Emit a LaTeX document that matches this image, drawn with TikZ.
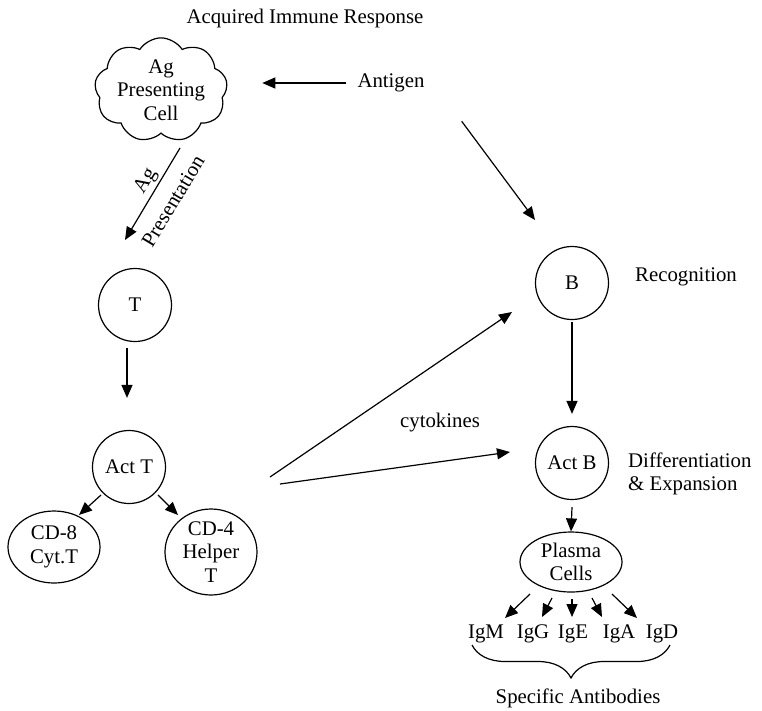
\documentclass[tikz,border=0pt]{standalone}
\usepackage{fontspec}
\setmainfont{Liberation Serif}
\usetikzlibrary{shapes.symbols,shapes.geometric,arrows.meta,decorations.pathreplacing,calc}

\begin{document}
\begin{tikzpicture}[x=1pt,y=-1pt,
  every node/.style={font=\fontsize{20.8}{23.5}\selectfont, inner sep=0pt},
  cell/.style={draw, circle, minimum size=73pt, line width=1.2pt},
  oval/.style={draw, ellipse, line width=1.2pt, align=center},
  arr/.style={-{Triangle[length=13pt,width=11pt]}, line width=1.2pt},
  lbl/.style={align=center}]
\useasboundingbox (0,0) rectangle (762,710);

% heading
\node (title) at (305,18) {Acquired Immune Response};

% antigen uptake
\node[draw, cloud, cloud puffs=9, cloud puff arc=115, cloud ignores aspect,
      minimum width=123pt, minimum height=83pt, align=center, line width=1.2pt]
      (apc) at (161,90) {Ag\\Presenting\\Cell};
\node (antigen) at (391,83) {Antigen};
\draw[arr] ([xshift=-11pt]antigen.west) -- ++(-84,0);

% T cell branch
\node[cell] (T) at (135,305) {T};
\coordinate (presA) at (180,148);
\coordinate (presB) at (125,240);
\draw[arr] (presA) -- (presB);
\node[rotate=59] (lblAg) at (146,181) {Ag};
\node[rotate=59] (lblPres) at (173,201) {Presentation};

\node[cell] (actT) at (129,467) {Act T};
\draw[arr] ($(T.south)+(-8,6)$) -- ($(actT.north)+(-2,-32)$);

\node[oval, minimum width=92pt, minimum height=72pt] (cd8) at (54,547) {CD-8\\Cyt.T};
\node[oval, minimum width=92pt, minimum height=86pt] (cd4) at (211,552) {CD-4\\Helper\\T};
\draw[arr] (101,495) -- (79,515);
\draw[arr] (158,495) -- (178,515);

% B cell branch
\node[cell] (B) at (572,283) {B};
\node (recog) at (686,277) {Recognition};
\draw[arr] ($(antigen.south east)+(37,29)$) -- ($(B)+(-37,-63)$);

\node[cell] (actB) at (572,463) {Act B};
\node[align=left, anchor=west] (diff) at (628,474) {Differentiation\\\& Expansion};
\draw[arr] ($(B.south)+(0,2)$) -- ($(actB.north)+(0,-12)$);

% cytokine help
\node (cyto) at (440,423) {cytokines};
\draw[arr] (270,477) -- (512,312);
\draw[arr] (280,484) -- (510,452);

% plasma cells and antibody classes
\node[oval, minimum width=102pt, minimum height=60pt] (plasma) at (571,562) {Plasma\\Cells};
\draw[arr] ($(actB.south)+(0,7)$) -- (plasma.north);

\node (igm) at (486,634) {IgM};
\node (igg) at (533,634) {IgG};
\node (ige) at (573,634) {IgE};
\node (iga) at (619,634) {IgA};
\node (igd) at (662,634) {IgD};
\draw[arr] (530,594) -- (505,618);
\draw[arr] (552,598) -- (542,617);
\draw[arr] (572,599) -- (572,617);
\draw[arr] (592,598) -- (602,617);
\draw[arr] (612,594) -- (637,618);

\draw[line width=1.2pt, decorate, decoration={brace, amplitude=33pt}] (670,645) -- (472,645);
\node (spec) at (578,698) {Specific Antibodies};
\end{tikzpicture}
\end{document}
